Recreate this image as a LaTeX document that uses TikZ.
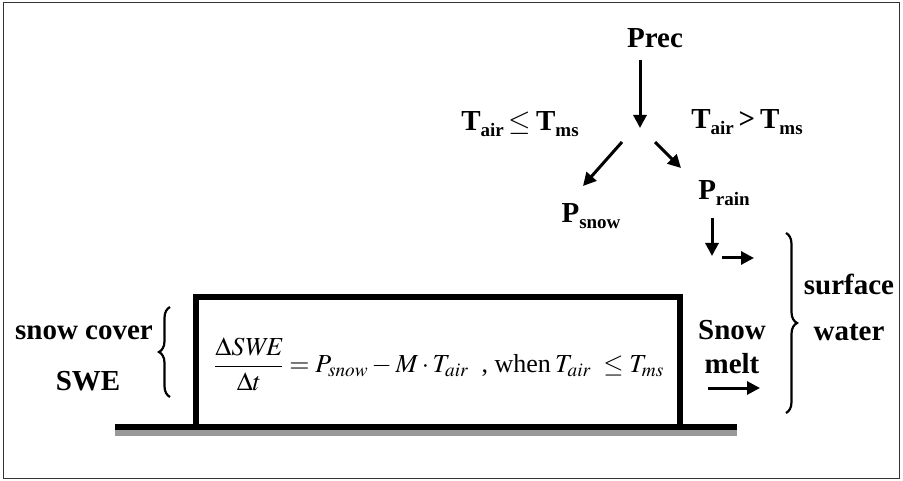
\documentclass[tikz,border=0pt]{standalone}
\usepackage{mathptmx}
\usepackage{fontspec}
\setmainfont{Liberation Serif}
\usetikzlibrary{arrows.meta, decorations.pathreplacing}

\newcommand{\lsub}[1]{\raisebox{-6.5pt}{\fontsize{19}{19}\selectfont #1}}

\begin{document}
\begin{tikzpicture}[x=1pt, y=-1pt,
    lbl/.style={font=\fontsize{29}{32}\selectfont\bfseries, inner sep=0pt},
    arr/.style={-{Triangle[length=13pt, width=13pt]}, line width=3pt},
    wall/.style={line width=6pt},
    curly/.style={decorate, decoration={brace, amplitude=11pt}, line width=2.2pt}
]
    \useasboundingbox (0,0) rectangle (903,481);
    \draw[line width=1pt, black!80] (3,3) rectangle (899,478);

    % Precipitation split
    \node[lbl] (prec) at (655,38) {Prec};
    \node[lbl] (cold) at (520,124) {T\lsub{air}\,$\le$\,T\lsub{ms}};
    \node[lbl] (warm) at (747,122) {T\lsub{air}\,>\,T\lsub{ms}};
    \node[lbl] (psnow) at (591,216) {P\lsub{snow}};
    \node[lbl] (prain) at (724,193) {P\lsub{rain}};
    \coordinate (fork) at (640,128);
    \coordinate (snowend) at (583,186);
    \coordinate (rainend) at (681,168);
    \coordinate (rainturn) at (712,256);
    \coordinate (surfin) at (754,258);
    \coordinate (meltend) at (760,388);

    \draw[arr] (prec.south -| fork) ++(0,12) -- (fork);
    \draw[arr] (fork) ++(-18,14) -- (snowend);
    \draw[arr] (fork) ++(15,14) -- (rainend);
    \draw[arr] (prain.south -| rainturn) ++(0,12) -- (rainturn);
    \draw[arr] (rainturn) ++(10,2) -- (surfin);

    % Snow pack
    \draw[line width=6pt, black!40] (115,433) -- (737,433);
    \draw[wall] (115,427) -- (737,427);
    \draw[wall] (196,427) -- (196,297) -- (680,297) -- (680,427);
    \node[inner sep=0pt, font=\fontsize{26}{30}\selectfont] (swebox) at (439,364)
        {$\displaystyle\frac{\Delta\mathit{SWE}}{\Delta t} = P_{snow} - M\cdot T_{air}$\ \ , when\,$T_{air}\ \le T_{ms}$};

    \node[lbl] (cover) at (84,333) {snow cover};
    \node[lbl] (swe) at (88,381) {SWE};
    \draw[curly] (170,397) -- (170,307);

    \node[lbl] (snow) at (732,330) {Snow};
    \node[lbl] (melt) at (732,364) {melt};
    \draw[arr] (meltend -| melt.west) ++(4,0) -- (meltend);

    % Surface water
    \draw[curly] (786,233) -- (786,413);
    \node[lbl] (surface) at (849,284) {surface};
    \node[lbl] (water) at (849,332) {water};
\end{tikzpicture}
\end{document}
